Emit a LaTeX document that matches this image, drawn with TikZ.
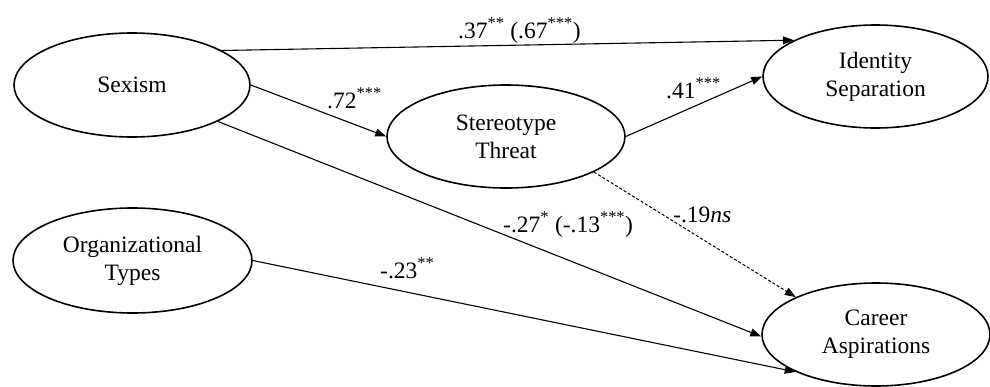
\documentclass[tikz,border=0pt]{standalone}
\usepackage{fontspec}
\setmainfont{Liberation Serif}
\usetikzlibrary{shapes.geometric,arrows.meta}
\tikzset{
  var/.style={ellipse,draw,line width=1.6pt,inner sep=0pt,align=center,
    font=\fontsize{23.5}{28}\selectfont},
  path/.style={line width=1.1pt,-{Triangle[length=11pt,width=8pt]}},
  nspath/.style={path,dash pattern=on 3pt off 2pt,line width=1pt},
  lab/.style={anchor=base west,inner sep=0pt,font=\fontsize{23.5}{28}\selectfont}
}
\begin{document}
\begin{tikzpicture}[x=1pt,y=-1pt]
\useasboundingbox (0,0) rectangle (990,386);
\node[var,minimum width=236pt,minimum height=104pt] (sex) at (132,85) {Sexism};
\node[var,minimum width=238pt,minimum height=103pt] (st) at (506,136.5) {Stereotype\\Threat};
\node[var,minimum width=225pt,minimum height=103pt] (id) at (875.5,76.5) {Identity\\Separation};
\node[var,minimum width=239pt,minimum height=105pt] (org) at (132.5,260.5) {Organizational\\Types};
\node[var,minimum width=228pt,minimum height=103pt] (car) at (876,334.5) {Career\\Aspirations};

\draw[path] (sex.21.7) -- (id.156.3);
\draw[path] (sex.east) -- (st.west);
\draw[path] (st.east) -- (id.west);
\draw[path] (sex.-23.3) -- (car.181);
\draw[nspath] (st.-22.3) -- (car.155.8);
\draw[path] (org.east) -- (car.205.4);

\node[lab] (l1) at (458,38) {.37\textsuperscript{**} (.67\textsuperscript{***})};
\node[lab] (l2) at (327,108) {.72\textsuperscript{***}};
\node[lab] (l3) at (666,98) {.41\textsuperscript{***}};
\node[lab] (l4) at (503,232) {-.27\textsuperscript{*} (-.13\textsuperscript{***})};
\node[lab] (l5) at (673,222) {-.19\textit{ns}};
\node[lab] (l6) at (380,278) {-.23\textsuperscript{**}};
\end{tikzpicture}
\end{document}
